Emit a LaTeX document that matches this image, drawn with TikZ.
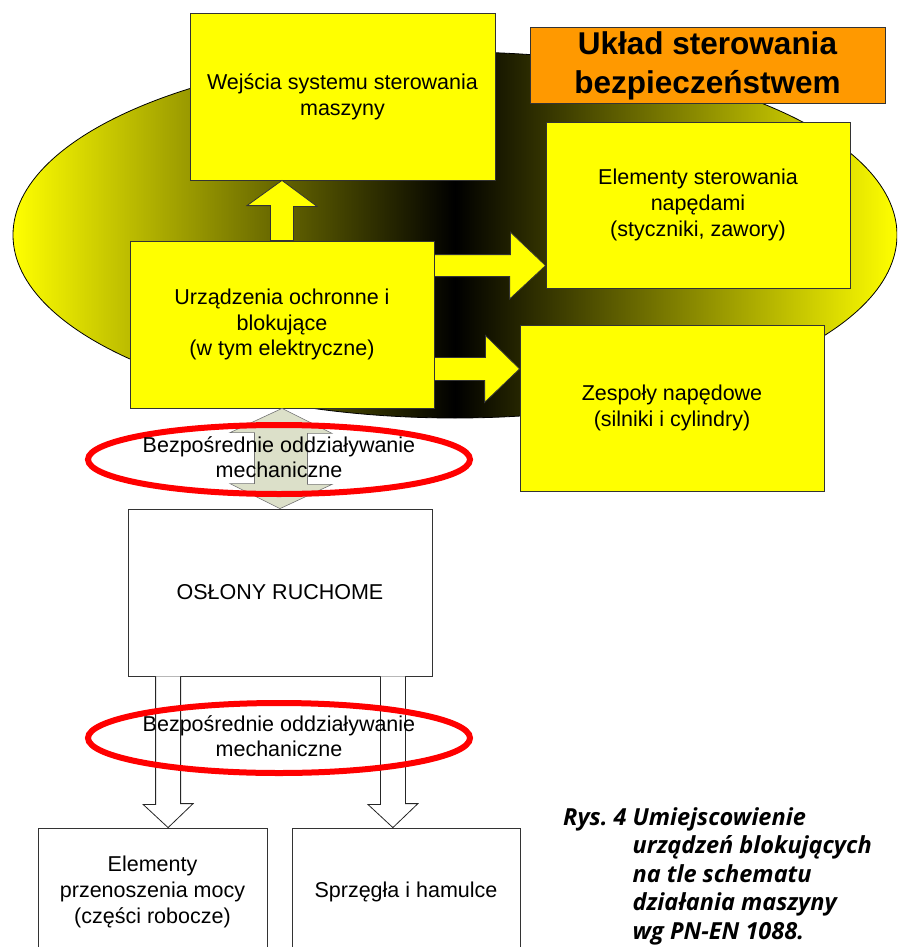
\documentclass[tikz,border=0pt]{standalone}
\usepackage{fontspec}
\setmainfont{Liberation Sans}
\newfontfamily\capfont{Open Sans}
\usepackage{tikz}
\usetikzlibrary{shapes.geometric, calc}
\definecolor{boxyellow}{HTML}{FFFF00}
\definecolor{titleorange}{HTML}{FF9900}
\definecolor{mechgray}{HTML}{DCE0C9}
\tikzstyle{box} = [draw=black!80, line width=0.8pt, rectangle, align=center, inner sep=4pt, font=\fontsize{21.5}{25.8}\selectfont]
\tikzstyle{ybox} = [box, fill=boxyellow]
\tikzstyle{wbox} = [box, fill=white]
\tikzstyle{yarrow} = [draw=black!80, line width=0.8pt, fill=boxyellow]
\tikzstyle{garrow} = [draw=black!55, line width=0.6pt, fill=mechgray]
\tikzstyle{warrow} = [draw=black!85, line width=0.8pt, fill=white]
\tikzstyle{ring} = [draw=red, line width=6pt]
\tikzstyle{mechtext} = [align=center, inner sep=0pt, font=\fontsize{21.5}{25.2}\selectfont]

\begin{document}
\begin{tikzpicture}[x=1pt, y=-1pt]
            \useasboundingbox (0,0) rectangle (897,947);
            \clip (0,0) rectangle (897,947);

            % Background oval of the control system
            \draw[line width=0.8pt, left color=boxyellow, right color=boxyellow, middle color=black]
                (455,235) ellipse [x radius=442, y radius=183];

            % Create the boxes
            \node[ybox, minimum width=305, minimum height=167] (wej) at (342.5,96.5) {Wejścia systemu sterowania\\maszyny};
            \node[ybox, minimum width=304, minimum height=167] (urz) at (282,324.5) {Urządzenia ochronne i\\blokujące\\(w tym elektryczne)};
            \node[box, fill=titleorange, minimum width=355, minimum height=75, font=\fontsize{31.5}{39}\selectfont\bfseries] (title) at (707.5,65.5) {Układ sterowania\\bezpieczeństwem};
            \node[ybox, minimum width=304, minimum height=166] (elst) at (698,205) {Elementy sterowania\\napędami\\(styczniki, zawory)};
            \node[ybox, minimum width=304, minimum height=166] (zesp) at (672,408) {Zespoły napędowe\\(silniki i cylindry)};
            \node[wbox, minimum width=304, minimum height=167] (osl) at (280,592.5) {OSŁONY RUCHOME};
            \node[wbox, minimum width=229, minimum height=128] (przen) at (152.5,892) {Elementy\\przenoszenia mocy\\(części robocze)};
            \node[wbox, minimum width=228, minimum height=128] (sprz) at (406,892) {Sprzęgła i hamulce};

            % Draw arrows between the nodes
            \draw[yarrow] ($(urz.north)+(-11.5,0)$) -- ++(0,-35) -- ++(-23.5,0) -- (urz.north |- wej.south)
                -- ++(35,26) -- ++(-23.5,0) -- ($(urz.north)+(11.5,0)$) -- cycle;
            \coordinate (b1) at ($(urz.north east)+(0,25)$);
            \draw[yarrow] ($(b1)+(0,-11)$) -- ++(76,0) -- ++(0,-22.5) -- (elst.west |- b1)
                -- ++(-36,33.5) -- ++(0,-22.5) -- ($(b1)+(0,11)$) -- cycle;
            \coordinate (b2) at ($(urz.south east)+(0,-39.5)$);
            \draw[yarrow] ($(b2)+(0,-11.5)$) -- ++(51,0) -- ++(0,-22) -- (zesp.west |- b2)
                -- ++(-35,33.5) -- ++(0,-22) -- ($(b2)+(0,11.5)$) -- cycle;
            \draw[garrow] (urz.south) -- ++(50,25) -- ++(-24.5,0) -- ++(0,51) -- ++(24.5,0) -- (osl.north)
                -- ++(-50,-25) -- ++(24.5,0) -- ++(0,-51) -- ++(-24.5,0) -- cycle;
            \coordinate (c1) at ($(osl.south west)+(40.5,0)$);
            \coordinate (c2) at ($(osl.south east)+(-39.5,0)$);
            \draw[warrow] ($(c1)+(-12.5,0)$) -- ++(0,128) -- ++(-12.5,0) -- (c1 |- przen.north)
                -- ++(25,-24) -- ++(-12.5,0) -- ($(c1)+(12.5,0)$);
            \draw[warrow] ($(c2)+(-12.5,0)$) -- ++(0,128) -- ++(-12.5,0) -- (c2 |- sprz.north)
                -- ++(25,-24) -- ++(-12.5,0) -- ($(c2)+(12.5,0)$);

            % Red rings with their labels
            \coordinate (m1) at (279,459.5);
            \coordinate (m2) at (279,738);
            \draw[ring] (m1) ellipse [x radius=191, y radius=34.5];
            \draw[ring] (m2) ellipse [x radius=191, y radius=35];
            \node[mechtext] (mech1) at ($(m1)+(0,-2)$) {Bezpośrednie oddziaływanie\\mechaniczne};
            \node[mechtext] (mech2) at ($(m2)+(0,-1.5)$) {Bezpośrednie oddziaływanie\\mechaniczne};

            % Caption
            \node[anchor=base west, inner sep=0pt, font=\capfont\fontsize{23.5}{28.5}\selectfont\bfseries\itshape] (caption) at (563,825)
                {\begin{tabular}[t]{@{}l@{ }l@{}}Rys.\ 4 & Umiejscowienie\\ & urządzeń blokujących\\ & na tle schematu\\ & działania maszyny\\ & wg PN-EN 1088.\end{tabular}};
        \end{tikzpicture}
\end{document}
